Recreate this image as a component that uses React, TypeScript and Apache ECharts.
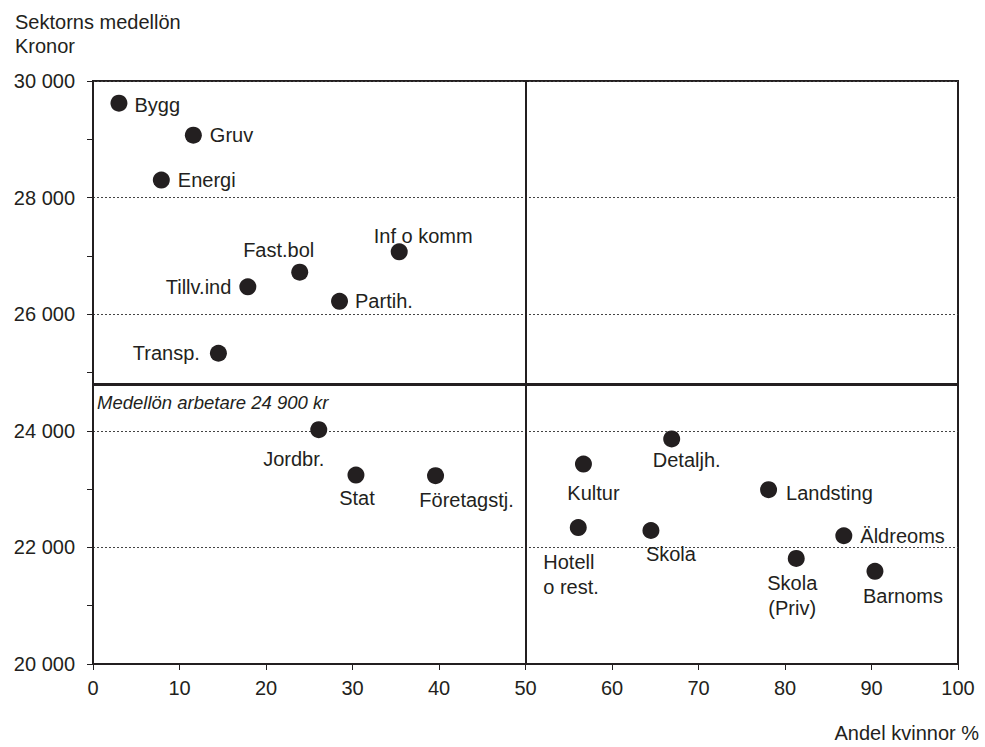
import React, { useEffect, useRef } from "react";
import * as echarts from "echarts";

const sectors = [
  "Bygg", "Gruv", "Energi", "Inf o komm", "Fast.bol", "Tillv.ind", "Partih.", "Transp.",
  "Jordbr.", "Stat", "Företagstj.", "Kultur", "Detaljh.", "Landsting", "Hotell\no rest.",
  "Skola", "Äldreoms", "Skola\n(Priv)", "Barnoms",
];
const shareWomen = [3.0, 11.6, 7.9, 35.4, 23.9, 17.9, 28.5, 14.5, 26.1, 30.4, 39.6, 56.7, 66.9, 78.1, 56.1, 64.5, 86.8, 81.3, 90.4];
const avgWage = [29620, 29070, 28300, 27070, 26720, 26470, 26220, 25330, 24020, 23240, 23230, 23430, 23860, 22990, 22340, 22290, 22200, 21810, 21590];
const workerAvgLine = 24800;
const workerAvgLabel = "Medellön arbetare 24 900 kr";
const xTicks = { min: 0, max: 100, interval: 10 };
const yTicks = { min: 20000, max: 30000, interval: 2000 };

// label placement per sector (styling only)
const placements: any[] = [
  { position: "right", distance: 7, offset: [0, 2] },
  { position: "right", distance: 8 },
  { position: "right", distance: 8 },
  { position: "inside", offset: [24, -16] },
  { position: "inside", offset: [-21, -22] },
  { position: "left", distance: 8 },
  { position: "right", distance: 7 },
  { position: "left", distance: 10 },
  { position: "inside", offset: [-25, 29] },
  { position: "inside", offset: [1, 23] },
  { position: "inside", offset: [31, 24] },
  { position: "inside", offset: [10, 29] },
  { position: "inside", offset: [15, 21] },
  { position: "right", distance: 9, offset: [0, 3] },
  { position: "inside", offset: [-35, 47], align: "left" },
  { position: "inside", offset: [20, 24] },
  { position: "right", distance: 8 },
  { position: "inside", offset: [-4, 37] },
  { position: "inside", offset: [28, 25] },
];

const INK = "#231f20";
const FONT = "'Liberation Sans', Arial, sans-serif";

function fmt(v: number) {
  return String(v).replace(/\B(?=(\d{3})+(?!\d))/g, " ");
}

export default function App() {
  const ref = useRef<HTMLDivElement>(null);
  useEffect(() => {
    if (!ref.current) return;
    const chart = echarts.init(ref.current, null, { renderer: "svg" });
    const data = sectors.map((name, i) => ({
      name,
      value: [shareWomen[i], avgWage[i]],
      label: { show: true, lineHeight: 25, ...placements[i] },
    }));
    chart.setOption({
      animation: false,
      textStyle: { fontFamily: FONT, color: INK },
      title: [
        {
          text: "Sektorns medellön\nKronor",
          left: 10,
          top: 5,
          textStyle: { fontFamily: FONT, fontSize: 20, fontWeight: "normal", color: INK, lineHeight: 24 },
        },
        {
          text: "Andel kvinnor %",
          right: 1,
          bottom: -1,
          textStyle: { fontFamily: FONT, fontSize: 20, fontWeight: "normal", color: INK },
        },
      ],
      grid: {
        left: 93,
        right: 27,
        top: 81,
        bottom: 83,
        show: true,
        borderColor: INK,
        borderWidth: 2,
      },
      xAxis: {
        type: "value",
        min: xTicks.min,
        max: xTicks.max,
        interval: xTicks.interval,
        axisLine: { show: true, lineStyle: { color: INK, width: 2 } },
        axisTick: { show: true, length: 6, lineStyle: { color: INK, width: 1 } },
        axisLabel: { color: INK, fontSize: 20, fontFamily: FONT, margin: 14 },
        splitLine: { show: false },
      },
      yAxis: {
        type: "value",
        min: yTicks.min,
        max: yTicks.max,
        interval: yTicks.interval,
        axisLine: { show: true, lineStyle: { color: INK, width: 2 } },
        axisTick: { show: true, length: 6, lineStyle: { color: INK, width: 1 } },
        minorTick: { show: true, splitNumber: 2, length: 6, lineStyle: { color: INK, width: 1 } },
        axisLabel: { color: INK, fontSize: 20, fontFamily: FONT, margin: 18, formatter: (v: number) => fmt(v) },
        splitLine: { show: true, lineStyle: { color: "#444", width: 1, type: [2, 2] } },
      },
      series: [
        {
          type: "scatter",
          symbolSize: 17,
          itemStyle: { color: INK, opacity: 1 },
          label: { color: INK, fontSize: 20, fontFamily: FONT, formatter: "{b}", opacity: 1 },
          data,
          markLine: {
            silent: true,
            symbol: "none",
            animation: false,
            data: [
              { xAxis: 50, lineStyle: { color: INK, width: 2, type: "solid", opacity: 1 }, label: { show: false } },
              {
                yAxis: workerAvgLine,
                lineStyle: { color: INK, width: 3, type: "solid", opacity: 1 },
                label: {
                  show: true,
                  formatter: workerAvgLabel,
                  position: "insideStartBottom",
                  distance: [4, 9],
                  fontStyle: "italic",
                  fontSize: 18.5,
                  fontFamily: FONT,
                  color: INK,
                },
              },
            ],
          },
        },
      ],
    });
    return () => chart.dispose();
  }, []);
  return <div ref={ref} style={{ position: "absolute", left: 0, top: 0, width: 985, height: 747 }} />;
}
